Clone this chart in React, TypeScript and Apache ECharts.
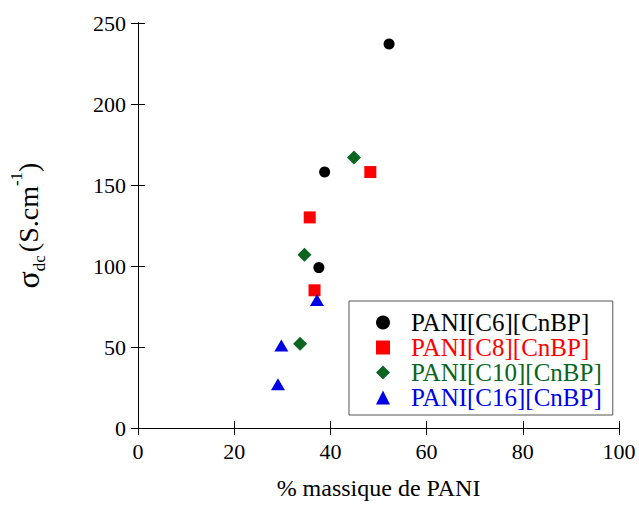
import React, { useEffect, useRef } from "react";
import * as echarts from "echarts";

const seriesNames = ["PANI[C6][CnBP]", "PANI[C8][CnBP]", "PANI[C10][CnBP]", "PANI[C16][CnBP]"];
const c6Data: number[][] = [[52.2, 237], [38.8, 158], [37.6, 99]];
const c8Data: number[][] = [[48.3, 158], [35.7, 130], [36.7, 85]];
const c10Data: number[][] = [[44.9, 167], [34.6, 107], [33.7, 52]];
const c16Data: number[][] = [[37.2, 79], [29.8, 51], [29.1, 27]];
const xTicks = { min: 0, max: 100, interval: 20 };
const yTicks = { min: 0, max: 250, interval: 50 };

const colors = ["#000000", "#ff0000", "#0b6420", "#0000e6"];
const symbols = ["circle", "rect", "diamond", "triangle"];
const sizes: (number | number[])[] = [11, 12, [14, 14], [14, 12]];
const FONT = "'Liberation Serif', 'Times New Roman', serif";

export default function App() {
  const ref = useRef<HTMLDivElement>(null);
  useEffect(() => {
    if (!ref.current) return;
    const chart = echarts.init(ref.current, undefined, { renderer: "svg" });
    const datas = [c6Data, c8Data, c10Data, c16Data];
    const axisCommon = {
      axisLine: { show: true, lineStyle: { color: "#000", width: 1 } },
      axisTick: { show: true, inside: true, length: 7, lineStyle: { color: "#000" } },
      splitLine: { show: false },
    };
    chart.setOption({
      animation: false,
      backgroundColor: "#fff",
      textStyle: { fontFamily: FONT },
      grid: { left: 135, right: 20, top: 23, bottom: 73 },
      xAxis: [
        {
          type: "value",
          position: "bottom",
          ...xTicks,
          ...axisCommon,
          axisLabel: { color: "#000", fontSize: 22, fontFamily: FONT, margin: 12 },
          name: "% massique de PANI",
          nameLocation: "middle",
          nameGap: 48,
          nameTextStyle: { color: "#000", fontSize: 24, fontFamily: FONT },
        },
        {
          type: "value",
          position: "top",
          ...xTicks,
          ...axisCommon,
          axisLabel: { show: false },
        },
      ],
      yAxis: [
        {
          type: "value",
          position: "left",
          ...yTicks,
          ...axisCommon,
          axisLabel: { color: "#000", fontSize: 22, fontFamily: FONT, margin: 12 },
          name: "{s|σ}{sub|dc} {m|(S.cm}{sup|-1}{m|)}",
          nameLocation: "middle",
          nameRotate: 90,
          nameGap: 90,
          nameTextStyle: {
            color: "#000",
            fontFamily: FONT,
            rich: {
              s: { fontSize: 32, fontFamily: FONT, color: "#000", lineHeight: 40, verticalAlign: "middle" },
              m: { fontSize: 28, fontFamily: FONT, color: "#000", lineHeight: 40, verticalAlign: "middle" },
              sub: { fontSize: 17, fontFamily: FONT, color: "#000", lineHeight: 40, verticalAlign: "bottom" },
              sup: { fontSize: 17, fontFamily: FONT, color: "#000", lineHeight: 40, verticalAlign: "top" },
            },
          },
        },
        {
          type: "value",
          position: "right",
          ...yTicks,
          ...axisCommon,
          axisLabel: { show: false },
        },
      ],
      legend: {
        show: true,
        orient: "vertical",
        left: 349,
        top: 301,
        itemWidth: 14,
        itemHeight: 14,
        itemGap: 0,
        padding: [9, 11, 5, 27],
        borderColor: "#555",
        borderWidth: 1,
        backgroundColor: "#fff",
        selectedMode: false,
        data: seriesNames.map((n, i) => ({
          name: n,
          icon: symbols[i],
          textStyle: { color: colors[i] },
        })),
        textStyle: { fontSize: 25, fontFamily: FONT, lineHeight: 25, padding: [0, 0, 0, 16] },
      },
      series: seriesNames.map((n, i) => ({
        name: n,
        type: "scatter",
        data: datas[i],
        symbol: symbols[i],
        symbolSize: sizes[i],
        itemStyle: { color: colors[i], opacity: 1 },
        xAxisIndex: 0,
        yAxisIndex: 0,
      })),
    });
    return () => chart.dispose();
  }, []);
  return <div ref={ref} style={{ width: 639, height: 505, position: "fixed", left: 0, top: 0 }} />;
}
